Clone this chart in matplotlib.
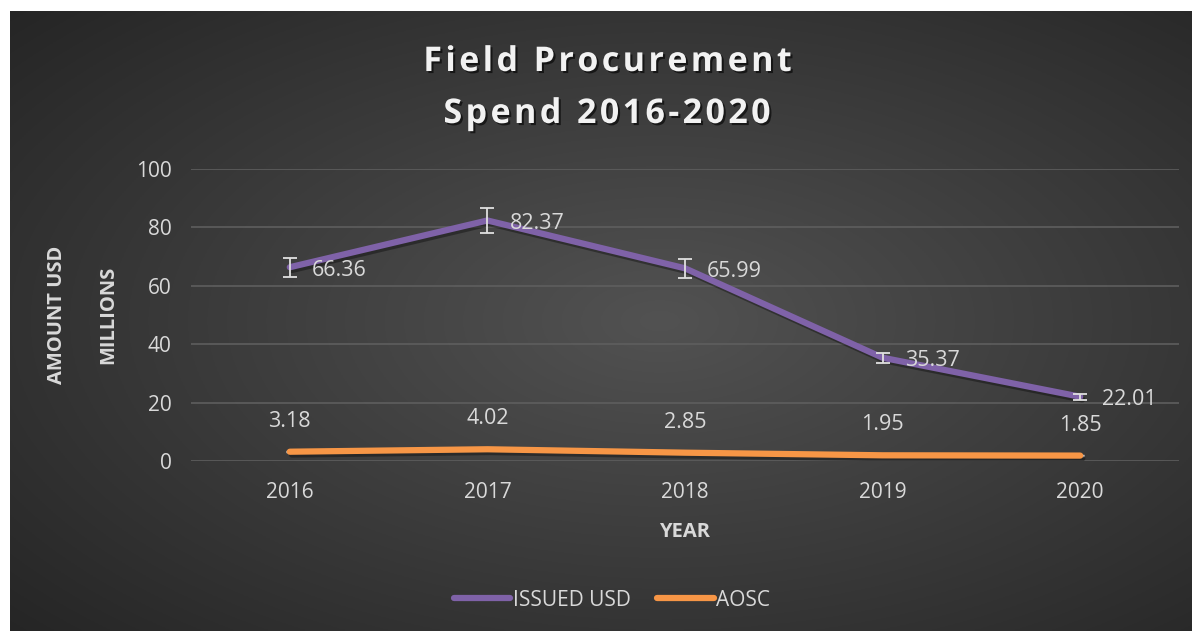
import numpy as np
import matplotlib.pyplot as plt
import matplotlib.patheffects as pe

years = ['2016', '2017', '2018', '2019', '2020']
issued_usd = [66.36, 82.37, 65.99, 35.37, 22.01]
aosc = [3.18, 4.02, 2.85, 1.95, 1.85]
issued_err = [3.32, 4.12, 3.30, 1.77, 1.10]
aosc_err = [0.16, 0.20, 0.14, 0.10, 0.09]
title_lines = ['Field Procurement', 'Spend 2016-2020']

plt.rcParams['font.family'] = ['Open Sans', 'DejaVu Sans']

W, H = 1192, 631
fig = plt.figure(figsize=(W / 100, H / 100), dpi=100, facecolor='white')

# background radial gradient
bg = fig.add_axes([10 / W, 0, (W - 10) / W, (H - 11) / H], zorder=0)
yy, xx = np.mgrid[0:1:300j, 0:1:600j]
d = np.sqrt(((xx - 0.55) / 0.75) ** 2 + ((yy - 0.5) / 0.75) ** 2)
d = np.clip(d, 0, 1)
c0, c1 = 0x52 / 255, 0x25 / 255
img = c0 + (c1 - c0) * d
bg.imshow(np.dstack([img, img, img]), aspect='auto', extent=[0, 1, 0, 1], origin='lower')
bg.axis('off')

ax = fig.add_axes([191 / W, (H - 461) / H, 988 / W, 292 / H], zorder=1)
ax.patch.set_alpha(0)
x = np.arange(len(years))

shadow = [pe.SimpleLineShadow(offset=(1.5, -2), shadow_color='black', alpha=0.35), pe.Normal()]
ax.plot(x, issued_usd, color='#7F62A8', lw=4.5, solid_capstyle='round', label='ISSUED USD',
        path_effects=shadow, zorder=3)
ax.plot(x, aosc, color='#F79646', lw=4.5, solid_capstyle='round', label='AOSC',
        path_effects=shadow, zorder=3)
ax.errorbar(x, issued_usd, yerr=issued_err, fmt='none', ecolor='#e0e0e0', elinewidth=1.3,
            capsize=5, capthick=1.3, zorder=4)
ax.errorbar(x, aosc, yerr=aosc_err, fmt='none', ecolor='#e0e0e0', elinewidth=1.0,
            capsize=3, capthick=1.0, zorder=2)

for xi, v in zip(x, issued_usd):
    ax.annotate(f'{v:.2f}', (xi, v), xytext=(16, -2), textcoords='offset points',
                ha='left', va='center', color='#d9d9d9', fontsize=15.5)
for xi, v in zip(x, aosc):
    ax.annotate(f'{v:.2f}', (xi, v), xytext=(0, 22), textcoords='offset points',
                ha='center', va='center', color='#d9d9d9', fontsize=15.5)

ax.set_xlim(-0.5, len(years) - 0.5)
ax.set_ylim(0, 100)
ax.set_yticks(range(0, 101, 20))
ax.set_xticks(x)
ax.set_xticklabels(years)
ax.tick_params(length=0, colors='#d9d9d9', labelsize=15)
ax.tick_params(axis='x', pad=15)
ax.tick_params(axis='y', pad=14)
ax.grid(axis='y', color='#5e5e5e', lw=1.2)
ax.set_axisbelow(True)
for s in ax.spines.values():
    s.set_visible(False)

ax.set_xlabel('YEAR', color='#d9d9d9', fontsize=14.5, fontweight='bold', labelpad=14)
fig.text(57 / W, 1 - 315 / H, 'AMOUNT USD', rotation=90, ha='center', va='center',
         color='#d9d9d9', fontsize=14.5, fontweight='bold')
fig.text(108 / W, 1 - 315 / H, 'MILLIONS', rotation=90, ha='center', va='center',
         color='#d9d9d9', fontsize=14.5, fontweight='bold')

title_fx = [pe.withSimplePatchShadow(offset=(1.5, -1.5), shadow_rgbFace='black', alpha=0.6)]
for i, line in enumerate(title_lines):
    spaced = '\u200a'.join(line)
    fig.text(607 / W, 1 - (62 + 52 * i) / H, spaced, ha='center', va='center',
             color='#f2f2f2', fontsize=24.5, fontweight='bold', path_effects=title_fx,
             family=['Open Sans', 'DejaVu Sans'])

leg = fig.legend(loc='center', bbox_to_anchor=(612 / W, 1 - 600 / H), ncol=2, frameon=False,
                 fontsize=15, handlelength=2.7, columnspacing=1.3, handletextpad=0.1)
for t in leg.get_texts():
    t.set_color('#d9d9d9')
for h in leg.legend_handles:
    h.set_path_effects([])

fig.savefig('out.png', dpi=100, facecolor='white')
